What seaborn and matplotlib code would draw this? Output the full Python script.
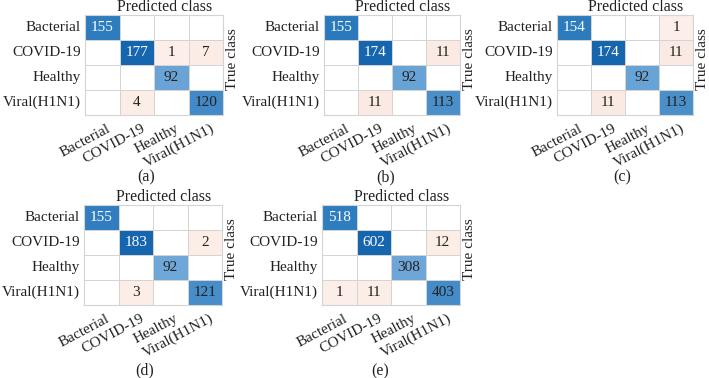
import numpy as np
import pandas as pd
import seaborn as sns
import matplotlib
matplotlib.use("Agg")
import matplotlib.pyplot as plt
import matplotlib.transforms as mtrans
from matplotlib.colors import LinearSegmentedColormap, ListedColormap

classes = ["Bacterial", "COVID-19", "Healthy", "Viral(H1N1)"]
cm_a = [[155, 0, 0, 0], [0, 177, 1, 7], [0, 0, 92, 0], [0, 4, 0, 120]]
cm_b = [[155, 0, 0, 0], [0, 174, 0, 11], [0, 0, 92, 0], [0, 11, 0, 113]]
cm_c = [[154, 0, 0, 1], [0, 174, 0, 11], [0, 0, 92, 0], [0, 11, 0, 113]]
cm_d = [[155, 0, 0, 0], [0, 183, 0, 2], [0, 0, 92, 0], [0, 3, 0, 121]]
cm_e = [[518, 0, 0, 0], [0, 602, 0, 12], [0, 0, 308, 0], [1, 11, 0, 403]]
captions = ["(a)", "(b)", "(c)", "(d)", "(e)"]
matrices = [cm_a, cm_b, cm_c, cm_d, cm_e]

plt.rcParams["font.family"] = ["Liberation Serif", "DejaVu Serif"]

diag_cmap = LinearSegmentedColormap.from_list(
    "diag",
    [(0.0, "#FFFFFF"), (0.5, "#70A8D8"), (0.68, "#428AC7"),
     (0.88, "#2C7CBE"), (1.0, "#1666AF")])
off_cmap = LinearSegmentedColormap.from_list("off", ["#FCEEE8", "#F3D0BF"])
white_cmap = ListedColormap(["#FFFFFF"])

fig = plt.figure(figsize=(7.09, 3.78), dpi=100)

W, H = 709, 378
# grid boxes in pixels: left, top, right, bottom
boxes = [(85, 15, 223, 115), (324, 15, 460, 115), (557, 15, 693, 115),
         (84, 205, 222, 305), (322, 205, 460, 305)]
cap_pos = [(146, 177), (386, 177), (622, 177), (145, 370), (380, 371)]

LINE = "#D4D4D4"
TXT = "#222222"
FS_NUM = 11
FS_TICK = 11
FS_LAB = 11.5

for mat, box, cap, cpos in zip(matrices, boxes, captions, cap_pos):
    l, t, r, b = box
    ax = fig.add_axes([l / W, 1 - b / H, (r - l) / W, (b - t) / H])
    df = pd.DataFrame(mat, index=classes, columns=classes)
    vals = df.values
    vmax = vals.max()
    eye = np.eye(4, dtype=bool)
    ratio = vals / vmax
    sns.heatmap(df, ax=ax, cmap=white_cmap, cbar=False, linewidths=0.7,
                linecolor=LINE, annot=False)
    common = dict(ax=ax, cbar=False, linewidths=0.7, linecolor=LINE,
                  annot=True, fmt="d")
    dark = eye & (ratio > 0.75)
    sns.heatmap(df, mask=~dark, cmap=diag_cmap, vmin=0, vmax=vmax,
                annot_kws={"color": "white", "fontsize": FS_NUM}, **common)
    light = eye & (ratio <= 0.75)
    sns.heatmap(df, mask=~light, cmap=diag_cmap, vmin=0, vmax=vmax,
                annot_kws={"color": TXT, "fontsize": FS_NUM}, **common)
    off = (~eye) & (vals > 0)
    sns.heatmap(df, mask=~off, cmap=off_cmap, vmin=0, vmax=vmax * 0.5,
                annot_kws={"color": TXT, "fontsize": FS_NUM}, **common)
    for s in ax.spines.values():
        s.set_visible(True)
        s.set_color(LINE)
        s.set_linewidth(0.8)
    ax.tick_params(length=0, pad=3, labelsize=FS_TICK, colors=TXT)
    ax.set_yticklabels(classes, rotation=0)
    ax.set_xticklabels(classes, rotation=28, ha="right", rotation_mode="anchor")
    off_t = mtrans.ScaledTranslation(3 / 72, -2 / 72, fig.dpi_scale_trans)
    for lab in ax.get_xticklabels():
        lab.set_transform(lab.get_transform() + off_t)
    ax.set_title("Predicted class", fontsize=FS_LAB, pad=2, color=TXT, x=0.58)
    ax.text(1.025, 0.56, "True class", rotation=90, transform=ax.transAxes,
            ha="left", va="center", fontsize=FS_LAB - 0.5, color=TXT)
    ax.set_xlabel("")
    ax.set_ylabel("")
    fig.text(cpos[0] / W, 1 - cpos[1] / H, cap, ha="center", va="center",
             fontsize=FS_LAB, color=TXT)

fig.savefig("out.png", dpi=100)
